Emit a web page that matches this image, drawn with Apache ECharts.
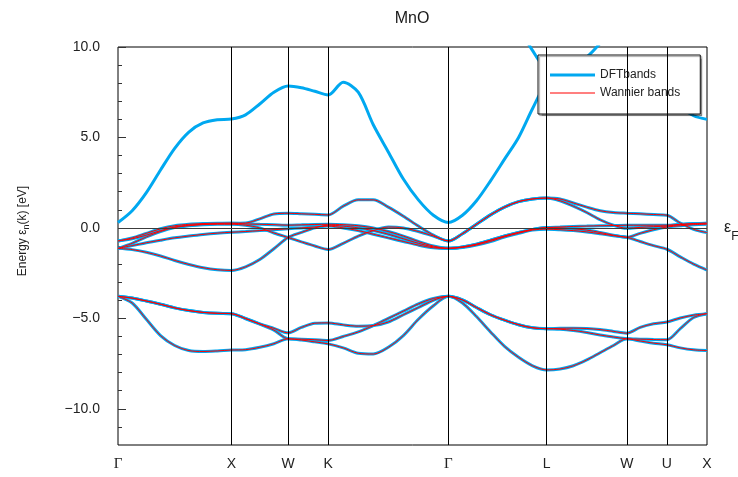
<!DOCTYPE html>
<html>
<head>
<meta charset="utf-8">
<script src="https://cdn.jsdelivr.net/npm/echarts@6/dist/echarts.min.js"></script>
<style>
  html, body { margin: 0; padding: 0; background: #ffffff; }
  #chart { width: 738px; height: 477px; }
</style>
</head>
<body>
<div id="chart"></div>
<script>
// High-symmetry points of the fcc path (units of 2π/a)
const kNodes  = [0, 1, 1.5, 1.8536, 2.9142, 3.7802, 4.4873, 4.8409, 5.1945];
const kLabels = ['Γ', 'X', 'W', 'K', 'Γ', 'L', 'W', 'U', 'X'];

// Sampled k-points along Γ-X-W-K-Γ-L-W-U-X
const kPath = [
  0, 0.125, 0.25, 0.375, 0.5, 0.625, 0.75, 0.875, 1,
  1.125, 1.25, 1.375, 1.5,
  1.6179, 1.7357, 1.8536,
  1.9862, 2.1187, 2.2513, 2.3839, 2.5165, 2.6490, 2.7816, 2.9142,
  3.0379, 3.1616, 3.2854, 3.4091, 3.5328, 3.6565, 3.7802,
  3.8981, 4.0159, 4.1338, 4.2516, 4.3695, 4.4873,
  4.6052, 4.7230, 4.8409,
  4.9587, 5.0766, 5.1945
];

// Energy axis ticks (eV)
const yMajorTicks  = [-10, -5, 0, 5, 10];
const yTickLabels  = ['−10.0', '−5.0', '0.0', '5.0', '10.0'];
const yMinorTicks  = [-11, -9, -8, -7, -6, -4, -3, -2, -1, 1, 2, 3, 4, 6, 7, 8, 9];

// Conduction bands (DFT only)
const condBand1 = [
  0.3, 0.95, 1.95, 3.2, 4.4, 5.3, 5.8, 5.98, 6.02,
  6.25, 6.85, 7.5, 7.85,
  7.75, 7.55, 7.35,
  8.05, 7.5, 5.7, 4.2, 2.7, 1.55, 0.7, 0.3,
  0.7, 1.5, 2.6, 3.8, 5.0, 6.6, 8.0,
  8.3, 8.6, 8.9, 9.1, 9.2, 9.3,
  9.0, 8.4, 7.6,
  6.7, 6.2, 6.0
];
const condBand2 = [
  null, null, null, null, null, null, null, null, null,
  null, null, null, null,
  null, null, null,
  null, null, null, null, null, null, null, null,
  null, null, null, null, 11.2, 9.8, 8.9,
  9.0, 9.2, 9.45, 10.2, 11.0, null,
  null, null, null,
  null, null, null
];

// O-p bands
const pBand1 = [
  -3.78, -4.15, -5.05, -5.95, -6.5, -6.78, -6.83, -6.8, -6.75,
  -6.73, -6.6, -6.4, -6.13,
  -6.2, -6.3, -6.41,
  -6.63, -6.93, -6.97, -6.6, -5.95, -5.05, -4.3, -3.78,
  -4.15, -4.9, -5.75, -6.55, -7.15, -7.62, -7.85,
  -7.8, -7.62, -7.3, -6.9, -6.5, -6.13,
  -6.25, -6.37, -6.46,
  -6.63, -6.74, -6.78
];
const pBand2 = [
  -3.78, -3.88, -4.04, -4.22, -4.42, -4.57, -4.67, -4.72, -4.74,
  -5.02, -5.32, -5.65, -6.13,
  -6.15, -6.18, -6.22,
  -6.0, -5.75, -5.4, -5.0, -4.6, -4.2, -3.9, -3.78,
  -3.98, -4.4, -4.8, -5.1, -5.35, -5.52, -5.57,
  -5.6, -5.67, -5.78, -5.92, -6.03, -6.13,
  -6.15, -6.17, -6.18,
  -5.57, -4.95, -4.74
];
const pBand3 = [
  -3.78, -3.88, -4.04, -4.22, -4.42, -4.57, -4.67, -4.72, -4.74,
  -5.0, -5.3, -5.55, -5.8,
  -5.5, -5.27, -5.25,
  -5.36, -5.43, -5.4, -5.2, -4.8, -4.4, -4.0, -3.78,
  -3.98, -4.4, -4.8, -5.1, -5.35, -5.52, -5.57,
  -5.55, -5.54, -5.56, -5.62, -5.72, -5.82,
  -5.5, -5.3, -5.2,
  -4.98, -4.82, -4.74
];

// Mn-d bands
const dBand1 = [
  -1.13, -1.2, -1.35, -1.55, -1.8, -2.02, -2.2, -2.31, -2.35,
  -2.15, -1.75, -1.15, -0.53,
  -0.25, 0.0, 0.15,
  0.1, 0.0, -0.15, -0.35, -0.6, -0.85, -1.05, -1.13,
  -1.05, -0.9, -0.68, -0.45, -0.25, -0.08, 0.02,
  0.05, 0.08, 0.1, 0.12, 0.13, 0.15,
  0.15, 0.15, 0.15,
  0.2, 0.24, 0.26
];
const dBand2 = [
  -1.13, -0.98, -0.82, -0.68, -0.55, -0.45, -0.36, -0.29, -0.24,
  -0.2, -0.15, -0.1, -0.05,
  0.0, 0.05, 0.1,
  0.0, -0.15, -0.35, -0.55, -0.75, -0.95, -1.1, -1.13,
  -1.08, -0.95, -0.75, -0.5, -0.3, -0.12, -0.07,
  -0.1, -0.15, -0.22, -0.32, -0.43, -0.52,
  -0.75, -0.98, -1.18,
  -1.6, -2.0, -2.33
];
const dBand3 = [
  -1.13, -0.85, -0.5, -0.2, 0.02, 0.12, 0.18, 0.2, 0.2,
  0.15, 0.0, -0.28, -0.53,
  -0.77, -1.0, -1.19,
  -0.85, -0.45, -0.15, 0.05, 0.0, -0.2, -0.45, -0.72,
  -0.32, 0.2, 0.72, 1.15, 1.45, 1.6, 1.65,
  1.5, 1.2, 0.85, 0.45, 0.15, -0.02,
  0.03, 0.07, 0.1,
  0.18, 0.23, 0.26
];
const dBand4 = [
  -0.72, -0.6, -0.4, -0.15, 0.05, 0.15, 0.2, 0.24, 0.26,
  0.22, 0.2, 0.18, 0.15,
  0.17, 0.19, 0.2,
  0.18, 0.12, 0.0, -0.2, -0.45, -0.75, -1.0, -1.13,
  -1.05, -0.9, -0.68, -0.45, -0.25, -0.08, 0.02,
  0.0, -0.05, -0.12, -0.25, -0.4, -0.52,
  -0.3, -0.1, 0.05,
  0.12, 0.18, 0.2
];
const dBand5 = [
  -0.72, -0.55, -0.3, -0.05, 0.12, 0.2, 0.24, 0.26, 0.26,
  0.27, 0.5, 0.77, 0.81,
  0.78, 0.75, 0.72,
  1.2, 1.55, 1.55, 1.15, 0.65, 0.1, -0.4, -0.72,
  -0.32, 0.2, 0.72, 1.15, 1.45, 1.6, 1.65,
  1.6, 1.38, 1.15, 0.95, 0.85, 0.81,
  0.78, 0.74, 0.7,
  0.27, -0.08, -0.26
];

const dftBands     = [condBand1, condBand2, pBand1, pBand2, pBand3, dBand1, dBand2, dBand3, dBand4, dBand5];
const wannierBands = [pBand1, pBand2, pBand3, dBand1, dBand2, dBand3, dBand4, dBand5];

const DFT_COLOR = '#00a8f0';
const WAN_COLOR = '#ff0000';
const SANS  = 'Liberation Sans, Arial, sans-serif';
const SERIF = 'Liberation Serif, Times New Roman, serif';

function bandSeries(name, values, color, width, z) {
  return {
    name: name,
    type: 'line',
    data: kPath.map((k, i) => [k, values[i]]),
    symbol: 'none',
    showSymbol: false,
    smooth: 0.3,
    clip: true,
    z: z,
    silent: true,
    animation: false,
    color: color,
    lineStyle: { color: color, width: width },
    itemStyle: { color: color },
    emphasis: { disabled: true }
  };
}

const series = [];
dftBands.forEach(b => series.push(bandSeries('DFTbands', b, DFT_COLOR, 3, 2)));
wannierBands.forEach(b => series.push(bandSeries('Wannier bands', b, WAN_COLOR, 1, 3)));

// Guide lines: high-symmetry verticals and the Fermi level
series[0].markLine = {
  silent: true,
  symbol: ['none', 'none'],
  animation: false,
  label: { show: false },
  lineStyle: { color: '#000', width: 1, type: 'solid' },
  emphasis: { disabled: true },
  data: kNodes.slice(1, -1).map(k => ({ xAxis: k })).concat([{
    yAxis: 0,
    lineStyle: { color: '#3c3c3c', width: 1.2, type: 'solid' },
    label: {
      show: true,
      position: 'end',
      distance: 17,
      formatter: '{e|ε}{f|F}',
      rich: {
        e: { fontSize: 16, color: '#222', fontFamily: SANS },
        f: { fontSize: 12, color: '#222', fontFamily: SANS, padding: [17, 0, 0, 0] }
      }
    }
  }])
};

const chart = echarts.init(document.getElementById('chart'), null, { renderer: 'canvas' });
chart.setOption({
  animation: false,
  backgroundColor: '#ffffff',
  textStyle: { fontFamily: SANS },
  title: {
    text: 'MnO',
    left: 412,
    top: 11,
    padding: 0,
    textAlign: 'center',
    textStyle: { fontSize: 16, fontWeight: 'normal', color: '#1a1a1a', fontFamily: SANS }
  },
  legend: {
    data: [
      { name: 'DFTbands', icon: 'path://M0 0H45V3H0Z' },
      { name: 'Wannier bands', icon: 'path://M0 0H45V1H0Z' }
    ],
    orient: 'vertical',
    left: 538,
    top: 55,
    padding: [14, 20, 15, 12],
    itemGap: 6,
    itemWidth: 45,
    itemHeight: 14,
    symbolKeepAspect: true,
    itemStyle: { borderWidth: 0 },
    backgroundColor: '#ffffff',
    borderColor: '#111',
    borderWidth: 1,
    shadowColor: 'rgba(0,0,0,0.35)',
    shadowOffsetX: 1.5,
    shadowOffsetY: 1.5,
    shadowBlur: 1,
    selectedMode: false,
    textStyle: { fontSize: 12, color: '#222', fontFamily: SANS }
  },
  grid: {
    left: 118, right: 31, top: 47, bottom: 32,
    show: true,
    borderColor: '#000',
    borderWidth: 1,
    backgroundColor: 'transparent'
  },
  xAxis: {
    type: 'value',
    min: 0,
    max: kNodes[kNodes.length - 1],
    axisLine: { show: false },
    axisTick: { show: false },
    splitLine: { show: false },
    axisLabel: {
      customValues: kNodes,
      margin: 12,
      fontSize: 14,
      color: '#222',
      fontFamily: SANS,
      formatter: function (v) {
        const i = kNodes.findIndex(k => Math.abs(k - v) < 1e-6);
        const t = i >= 0 ? kLabels[i] : '';
        return t === 'Γ' ? '{g|Γ}' : t;
      },
      rich: { g: { fontFamily: SERIF, fontSize: 15, color: '#222' } }
    }
  },
  yAxis: [{
    type: 'value',
    min: -12,
    max: 10,
    position: 'left',
    axisLine: { show: false },
    splitLine: { show: false },
    axisTick: {
      show: true, inside: true, length: 8,
      customValues: yMajorTicks,
      lineStyle: { color: '#333', width: 1 }
    },
    axisLabel: {
      customValues: yMajorTicks,
      margin: 18,
      fontSize: 14,
      color: '#222',
      fontFamily: SANS,
      formatter: function (v) {
        const i = yMajorTicks.indexOf(v);
        return i >= 0 ? yTickLabels[i] : '';
      }
    },
    name: '{t|Energy ε}{s|n}{t|(k) [eV]}',
    nameLocation: 'middle',
    nameGap: 87,
    nameRotate: 90,
    nameTextStyle: {
      padding: [0, 0, 0, 30],
      rich: {
        t: { fontSize: 12, color: '#222', fontFamily: SANS },
        s: { fontSize: 9, color: '#222', fontFamily: SANS, padding: [7, 0, 0, 0] }
      }
    }
  }, {
    type: 'value',
    min: -12,
    max: 10,
    position: 'left',
    axisLine: { show: false },
    splitLine: { show: false },
    axisLabel: { show: false },
    axisTick: {
      show: true, inside: true, length: 4,
      customValues: yMinorTicks,
      lineStyle: { color: '#333', width: 1 }
    }
  }],
  series: series
});
</script>
</body>
</html>
